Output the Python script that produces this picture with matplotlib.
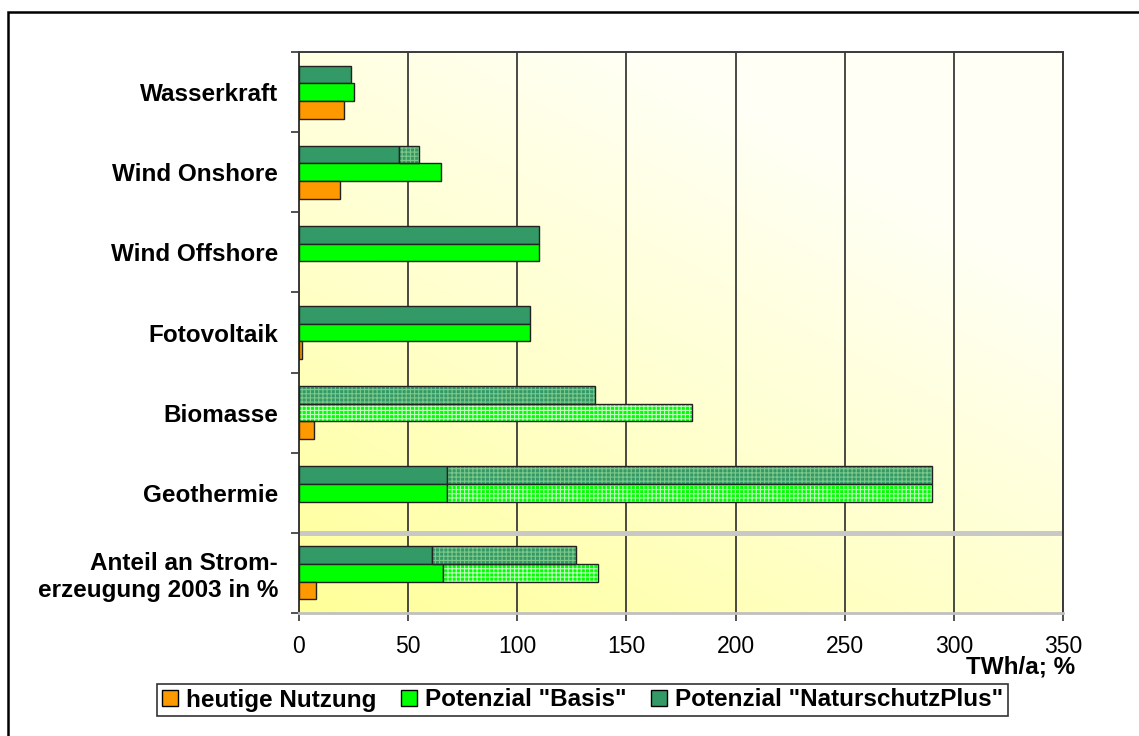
import matplotlib.pyplot as plt
import numpy as np
from matplotlib.patches import Patch, Rectangle
from matplotlib.colors import LinearSegmentedColormap

# Daten (TWh/a bzw. % der Stromerzeugung 2003)
kategorien = ["Wasserkraft", "Wind Onshore", "Wind Offshore", "Fotovoltaik",
              "Biomasse", "Geothermie", "Anteil an Strom-\nerzeugung 2003 in %"]
heutige_nutzung = [20.5, 19, 0, 1.5, 7, 0, 8]
basis_fest = [25, 65, 110, 106, 0, 68, 66]        # voll gefuellter Teil
basis_gesamt = [25, 65, 110, 106, 180, 290, 137]  # inkl. schraffiertem Teil
nsp_fest = [24, 46, 110, 106, 0, 68, 61]
nsp_gesamt = [24, 55, 110, 106, 135.5, 290, 127]

achsen_ticks = [0, 50, 100, 150, 200, 250, 300, 350]

# Farben
orange = "#FF9900"
hellgruen = "#00FF00"
dunkelgruen = "#339966"

plt.rcParams['font.family'] = ['Liberation Sans', 'DejaVu Sans']
plt.rcParams['hatch.linewidth'] = 0.8

fig = plt.figure(figsize=(11.39, 7.36), dpi=100)
ax = fig.add_axes([0.2625, 0.1671, 0.9333 - 0.2625, 0.9293 - 0.1671])

# Hintergrund mit Farbverlauf
xx, yy = np.meshgrid(np.linspace(0, 1, 200), np.linspace(0, 1, 200))
t = np.clip(0.55 * xx + 0.75 * (1 - yy), 0, 1)
verlauf = LinearSegmentedColormap.from_list("verlauf", ["#FFFF99", "#FFFFCC", "#FFFFF6"])
ax.imshow(t, cmap=verlauf, extent=[0, 350, 6.5, -0.5], aspect='auto', zorder=0,
          interpolation='bilinear')

h = 0.22
y = np.arange(len(kategorien))


def balken(ypos, fest, gesamt, farbe, schraffur_farbe):
    for yi, f, g in zip(ypos, fest, gesamt):
        if f > 0:
            ax.barh(yi, f, height=h, color=farbe, edgecolor='#222222', linewidth=1.0, zorder=3)
        if g > f:
            ax.barh(yi, g - f, left=f, height=h, color=farbe, hatch='++++',
                    edgecolor=schraffur_farbe, linewidth=0, zorder=3)
            ax.barh(yi, g - f, left=f, height=h, fill=False, edgecolor='#222222',
                    linewidth=1.0, zorder=4)


balken(y - h, nsp_fest, nsp_gesamt, dunkelgruen, "#7cc88a")
balken(y, basis_fest, basis_gesamt, hellgruen, "#c0ffc0")
for yi, v in zip(y + h, heutige_nutzung):
    if v > 0:
        ax.barh(yi, v, height=h, color=orange, edgecolor='#222222', linewidth=1.0, zorder=3)

# Trennlinie zwischen Energietraegern und Anteil
ax.axhline(5.5, color='#C8C8C8', linewidth=3.6, zorder=2)

ax.set_xlim(0, 350)
ax.set_ylim(6.5, -0.5)
ax.set_xticks(achsen_ticks)
ax.set_xticklabels([str(v) for v in achsen_ticks], fontsize=16.5)
ax.xaxis.grid(True, color='#3a3a3a', linewidth=1.3, zorder=1)
ax.set_axisbelow(True)

ax.set_yticks(np.arange(-0.5, 7, 1))
ax.set_yticklabels([])
ax.set_yticks(y, minor=True)
ax.set_yticklabels(kategorien, minor=True, fontsize=17.5, fontweight='bold',
                   ha='right', linespacing=1.2)
ax.tick_params(axis='y', which='minor', length=0, pad=15)
ax.tick_params(axis='y', which='major', length=6, width=1.2, color='#333333')
ax.tick_params(axis='x', length=6, width=1.2, color='#333333', pad=10)

for s in ['top', 'right', 'left']:
    ax.spines[s].set_color('#3a3a3a')
    ax.spines[s].set_linewidth(1.4)
ax.spines['bottom'].set_color('#C0C0C0')
ax.spines['bottom'].set_linewidth(2)

fig.text(1075 / 1139, 1 - 667 / 736, "TWh/a; %", ha='right', va='center',
         fontsize=17.5, fontweight='bold')

handles = [Patch(facecolor=orange, edgecolor='black', linewidth=1),
           Patch(facecolor=hellgruen, edgecolor='black', linewidth=1),
           Patch(facecolor=dunkelgruen, edgecolor='black', linewidth=1)]
leg = fig.legend(handles, ['heutige Nutzung', 'Potenzial "Basis"', 'Potenzial "NaturschutzPlus"'],
                 loc='center', bbox_to_anchor=((161 + 1004) / 2 / 1139, 1 - 700 / 736),
                 ncol=3, frameon=True, fancybox=False, edgecolor='black',
                 prop={'weight': 'bold', 'size': 17.5}, handlelength=0.65, handleheight=0.65,
                 handletextpad=0.35, columnspacing=1.0, borderpad=0.2, borderaxespad=0)
leg.get_frame().set_linewidth(1.2)

# Rahmen um die ganze Grafik
fig.patches.append(Rectangle((8 / 1139, -0.05), 1.1, 1 - 12 / 736 + 0.05, transform=fig.transFigure,
                             fill=False, edgecolor='black', linewidth=1.8, clip_on=False))

fig.savefig("out.png", dpi=100)
